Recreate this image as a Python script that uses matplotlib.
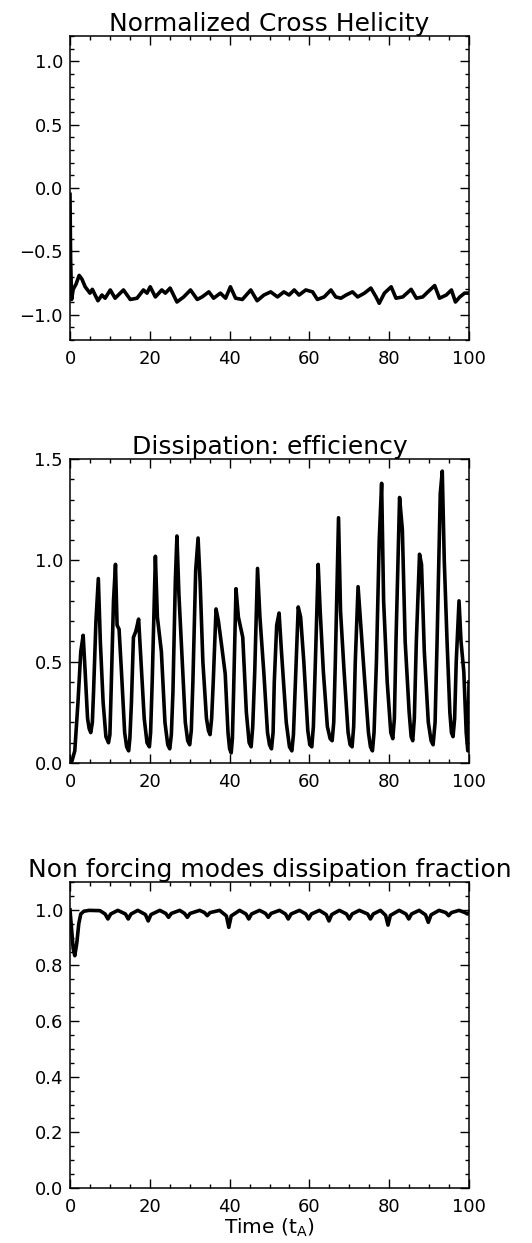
import matplotlib
matplotlib.use("Agg")
import matplotlib.pyplot as plt
from matplotlib.ticker import MultipleLocator, FuncFormatter

# ---------------- data ----------------
ch_t = [0.0, 0.15, 0.4, 0.8, 1.5, 2.3, 3.0, 3.8, 5.0, 5.6, 7.0, 8.0, 8.8, 10.1, 11.3, 13.4, 15.1,
        16.8, 18.4, 19.3, 20.1, 21.4, 23.0, 23.9, 25.1, 26.8, 28.5, 30.2, 31.9, 33.1, 34.8,
        36.0, 37.7, 39.0, 40.2, 41.5, 43.2, 45.3, 46.9, 48.6, 50.3, 52.0, 53.6, 54.9, 56.2,
        57.4, 59.1, 60.8, 62.0, 63.7, 65.4, 66.6, 67.9, 69.2, 70.8, 72.1, 73.8, 75.4, 76.7,
        77.5, 78.8, 80.5, 81.7, 83.4, 85.5, 86.8, 88.4, 89.7, 91.4, 92.6, 94.3, 95.6, 96.6,
        97.7, 98.9, 100.0]
ch_v = [-0.05, -0.55, -0.88, -0.80, -0.76, -0.69, -0.72, -0.78, -0.83, -0.80, -0.89, -0.845,
        -0.87, -0.805, -0.87, -0.805, -0.88, -0.87, -0.805, -0.83, -0.78, -0.86, -0.805,
        -0.83, -0.79, -0.90, -0.86, -0.805, -0.88, -0.86, -0.82, -0.87, -0.83, -0.87, -0.78,
        -0.87, -0.88, -0.805, -0.89, -0.845, -0.82, -0.86, -0.82, -0.845, -0.805, -0.845,
        -0.805, -0.82, -0.88, -0.86, -0.805, -0.86, -0.87, -0.845, -0.82, -0.86, -0.83,
        -0.79, -0.86, -0.91, -0.83, -0.78, -0.87, -0.86, -0.80, -0.87, -0.86, -0.82, -0.77,
        -0.87, -0.845, -0.805, -0.90, -0.86, -0.83, -0.83]

de_t = [0.0, 0.5, 1.2, 2.0, 2.7, 3.3, 3.8, 4.4, 4.8, 5.2, 5.6, 5.9, 6.5, 7.1, 7.6, 8.3, 9.0,
        9.65, 10.0, 10.3, 10.9, 11.4, 11.8, 12.3, 12.9, 13.7, 14.2, 14.7, 15.0, 15.4, 15.9,
        16.5, 17.2, 17.8, 18.6, 19.3, 19.9, 20.2, 20.6, 21.4, 21.9, 22.9, 23.8, 24.5, 25.0,
        25.4, 25.8, 26.4, 26.8, 27.3, 28.0, 28.9, 29.5, 30.0, 30.4, 30.8, 31.5, 32.1, 32.6,
        33.3, 34.2, 34.7, 35.1, 35.5, 35.9, 36.6, 37.2, 38.0, 38.9, 39.6, 40.0, 40.4, 40.7,
        41.0, 41.6, 42.2, 43.3, 44.2, 44.9, 45.4, 45.8, 46.3, 47.0, 47.6, 48.6, 49.5, 50.0,
        50.5, 50.9, 51.2, 51.8, 52.4, 53.0, 54.2, 55.0, 55.6, 56.0, 56.5, 57.2, 57.8, 58.6,
        59.6, 60.1, 60.6, 61.0, 61.5, 62.2, 62.7, 63.5, 64.5, 65.2, 65.7, 66.1, 66.5, 67.3,
        67.8, 68.7, 69.7, 70.2, 70.7, 71.1, 71.5, 72.2, 72.8, 73.7, 74.8, 75.3, 75.8, 76.2,
        76.8, 77.5, 78.1, 78.6, 79.5, 80.4, 80.9, 81.3, 81.7, 82.6, 83.3, 84.0, 85.0, 85.5,
        85.9, 86.3, 86.8, 87.6, 88.1, 88.8, 89.8, 90.5, 91.0, 91.5, 92.0, 92.8, 93.3, 93.8,
        94.5, 95.2, 95.6, 96.0, 96.4, 96.8, 97.5, 98.0, 98.7, 99.3, 99.7, 100.0]
de_v = [0.0, 0.01, 0.06, 0.30, 0.55, 0.63, 0.45, 0.22, 0.17, 0.15, 0.20, 0.35, 0.70, 0.91,
        0.60, 0.30, 0.13, 0.10, 0.14, 0.35, 0.80, 0.98, 0.68, 0.66, 0.45, 0.15, 0.08, 0.06,
        0.12, 0.30, 0.62, 0.65, 0.71, 0.50, 0.22, 0.10, 0.08, 0.15, 0.40, 1.02, 0.72, 0.55,
        0.20, 0.09, 0.07, 0.14, 0.35, 0.90, 1.12, 0.83, 0.55, 0.20, 0.11, 0.09, 0.16, 0.40,
        0.95, 1.11, 0.90, 0.50, 0.22, 0.16, 0.14, 0.22, 0.40, 0.76, 0.70, 0.58, 0.44, 0.15,
        0.07, 0.05, 0.12, 0.35, 0.86, 0.72, 0.62, 0.25, 0.10, 0.08, 0.18, 0.45, 0.96, 0.72,
        0.44, 0.15, 0.09, 0.07, 0.15, 0.40, 0.68, 0.74, 0.55, 0.20, 0.08, 0.06, 0.14, 0.40,
        0.77, 0.72, 0.50, 0.16, 0.09, 0.08, 0.18, 0.50, 0.98, 0.75, 0.45, 0.18, 0.12, 0.11,
        0.20, 0.50, 1.21, 0.75, 0.45, 0.15, 0.09, 0.08, 0.18, 0.50, 0.87, 0.70, 0.45, 0.15,
        0.08, 0.06, 0.15, 0.50, 1.10, 1.38, 0.80, 0.40, 0.15, 0.12, 0.22, 0.60, 1.31, 1.15,
        0.60, 0.25, 0.13, 0.11, 0.22, 0.60, 1.03, 0.98, 0.55, 0.20, 0.11, 0.09, 0.20, 0.60,
        1.33, 1.44, 1.00, 0.60, 0.25, 0.15, 0.13, 0.22, 0.50, 0.80, 0.60, 0.45, 0.15, 0.06,
        0.40]

nf_t = [0.0, 0.4, 0.8, 1.2, 1.7, 2.2, 2.7, 3.5, 4.8, 7.5, 8.8, 9.5, 10.2, 12.0, 13.9, 14.6,
        15.3, 17.0, 18.9, 19.6, 20.3, 22.5, 24.0, 24.7, 25.4, 27.5, 28.7, 29.4, 30.1, 32.5,
        33.7, 34.4, 35.1, 37.5, 39.2, 39.8, 40.4, 42.5, 44.1, 44.8, 45.5, 47.5, 49.0, 49.7,
        50.4, 52.5, 54.0, 54.7, 55.4, 57.5, 59.1, 59.8, 60.5, 62.5, 64.2, 64.9, 65.6, 67.5,
        69.3, 70.0, 70.7, 72.5, 74.6, 75.3, 76.0, 77.8, 79.1, 79.7, 80.3, 82.5, 84.2, 84.9,
        85.6, 87.5, 89.1, 89.8, 90.5, 92.5, 94.2, 94.9, 95.6, 97.5, 99.0, 99.6, 100.0]
nf_v = [1.0, 0.93, 0.86, 0.835, 0.88, 0.95, 0.985, 0.995, 0.998, 0.997, 0.985, 0.967,
        0.985, 0.998, 0.985, 0.967, 0.985, 0.998, 0.983, 0.96, 0.983, 0.998, 0.987, 0.973,
        0.987, 0.998, 0.987, 0.973, 0.987, 0.998, 0.99, 0.979, 0.99, 0.998, 0.978, 0.937,
        0.978, 0.998, 0.985, 0.967, 0.985, 0.998, 0.987, 0.973, 0.987, 0.998, 0.985, 0.967,
        0.985, 0.998, 0.985, 0.967, 0.985, 0.998, 0.983, 0.96, 0.983, 0.998, 0.985, 0.967,
        0.985, 0.998, 0.985, 0.967, 0.985, 0.998, 0.98, 0.945, 0.98, 0.998, 0.985, 0.967,
        0.985, 0.998, 0.982, 0.955, 0.982, 0.998, 0.99, 0.979, 0.99, 0.998, 0.99, 0.985, 0.99]

titles = ["Normalized Cross Helicity", "Dissipation: efficiency",
          "Non forcing modes dissipation fraction"]
ylims = [(-1.2, 1.2), (0.0, 1.5), (0.0, 1.1)]
ymajor = [0.5, 0.5, 0.2]
yminor = [0.1, 0.1, 0.05]
xlabel = "Time (t$_{\\mathsf{A}}$)"

# ---------------- figure ----------------
plt.rcParams['font.family'] = ['DejaVu Sans']
plt.rcParams['mathtext.fontset'] = 'dejavusans'
W, H = 532, 1243
fig = plt.figure(figsize=(W / 100, H / 100), dpi=100)

left = 70 / W
width = 399 / W
rects = [(36, 340), (459, 763), (882, 1188)]
series = [(ch_t, ch_v), (de_t, de_v), (nf_t, nf_v)]

yfmt = FuncFormatter(lambda v, p: ("%.1f" % v).replace("-", "\u2212"))

for i, ((top, bot), (t, v)) in enumerate(zip(rects, series)):
    ax = fig.add_axes([left, 1 - bot / H, width, (bot - top) / H])
    ax.plot(t, v, color='black', lw=2.6, solid_joinstyle='round')
    ax.set_xlim(0, 100)
    ax.set_ylim(*ylims[i])
    ax.xaxis.set_major_locator(MultipleLocator(20))
    ax.xaxis.set_minor_locator(MultipleLocator(5))
    ax.yaxis.set_major_locator(MultipleLocator(ymajor[i]))
    ax.yaxis.set_minor_locator(MultipleLocator(yminor[i]))
    ax.yaxis.set_major_formatter(yfmt)
    ax.tick_params(which='both', direction='in', top=True, right=True,
                   labelsize=13, width=1.0, colors='black')
    ax.tick_params(which='major', length=6.5)
    ax.tick_params(which='minor', length=3.2)
    ax.tick_params(axis='x', which='major', pad=7)
    ax.tick_params(axis='y', which='major', pad=5)
    for s in ax.spines.values():
        s.set_linewidth(1.1)
    ax.set_title(titles[i], fontsize=18, pad=3)
    if i == 2:
        ax.set_xlabel(xlabel, fontsize=14.5, labelpad=1)

fig.savefig("out.png", dpi=100)
